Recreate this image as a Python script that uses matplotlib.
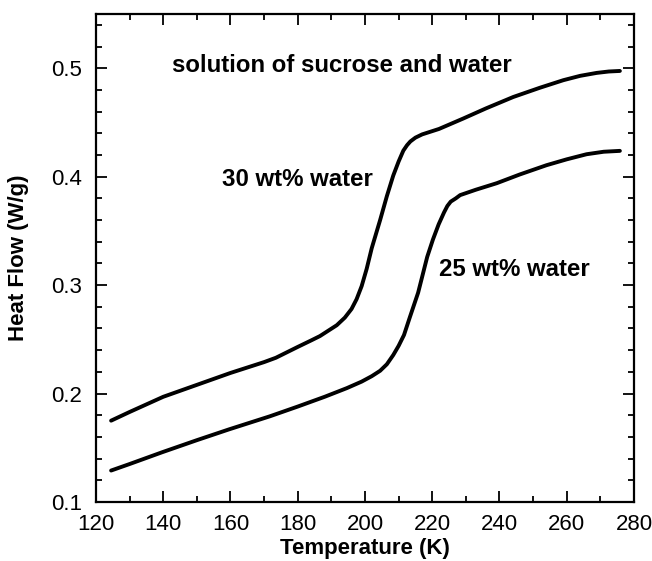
import matplotlib
matplotlib.use('Agg')
from matplotlib import pyplot
from matplotlib.ticker import MultipleLocator

# temperature (K) and heat flow (W/g)
temp_30 = [124.5, 130, 140, 150, 160, 170, 173.5, 180, 184, 186.6, 189.1,
           191.6, 194, 196, 197.5, 199, 200.5, 202, 204.5, 206.5, 208.4,
           210, 211.4, 212.5, 213.5, 215, 217, 222, 229.2, 236, 244.1, 252,
           259, 264, 268.9, 272.5, 275.8]
flow_30 = [0.175, 0.183, 0.197, 0.208, 0.219, 0.229, 0.233, 0.243, 0.249,
           0.253, 0.258, 0.263, 0.270, 0.278, 0.287, 0.299, 0.315, 0.334,
           0.36, 0.382, 0.401, 0.414, 0.424, 0.429, 0.4325, 0.436, 0.439,
           0.444, 0.4536, 0.463, 0.4735, 0.482, 0.489, 0.493, 0.4957, 0.497,
           0.4975]

temp_25 = [124.5, 130, 139.8, 150, 159.6, 171.7, 180, 188, 194.6, 199,
           202, 204.5, 206.5, 208.4, 210, 211.6, 213.3, 215.8, 218.5, 220.2,
           221.9, 223.5, 224.5, 225.5, 227, 228.3, 233, 239.2, 246, 254, 260,
           265.9, 271, 275.8]
flow_25 = [0.129, 0.135, 0.146, 0.157, 0.167, 0.179, 0.188, 0.197, 0.205,
           0.211, 0.216, 0.221, 0.227, 0.2355, 0.244, 0.254, 0.27, 0.293,
           0.326, 0.342, 0.356, 0.367, 0.373, 0.377, 0.380, 0.383, 0.388,
           0.394, 0.402, 0.4106, 0.416, 0.4207, 0.423, 0.4238]

font = ['Liberation Sans', 'DejaVu Sans']


def main():
    fig = pyplot.figure(figsize=(6.52, 5.61), dpi=100)
    ax = fig.add_axes([0.1472, 0.1052, 0.8252, 0.8698])

    ax.plot(temp_30, flow_30, color='black', lw=2.8, solid_capstyle='round')
    ax.plot(temp_25, flow_25, color='black', lw=2.8, solid_capstyle='round')

    ax.set_xlim(120, 280)
    ax.set_ylim(0.1, 0.55)
    ax.xaxis.set_major_locator(MultipleLocator(20))
    ax.xaxis.set_minor_locator(MultipleLocator(10))
    ax.yaxis.set_major_locator(MultipleLocator(0.1))
    ax.yaxis.set_minor_locator(MultipleLocator(0.02))
    ax.tick_params(which='both', direction='in', top=True, right=True,
                   width=1.3, labelsize=16)
    ax.tick_params(axis='x', pad=9)
    ax.tick_params(axis='y', pad=10)
    ax.tick_params(which='major', length=8)
    ax.tick_params(which='minor', length=4)
    for lab in ax.get_xticklabels() + ax.get_yticklabels():
        lab.set_family(font)
    for sp in ax.spines.values():
        sp.set_linewidth(1.6)

    ax.set_xlabel('Temperature (K)', family=font, fontsize=16,
                  fontweight='bold', labelpad=1.5)
    ax.set_ylabel('Heat Flow (W/g)', family=font, fontsize=16,
                  fontweight='bold', labelpad=16)

    ax.text(0.142, 0.895, 'solution of sucrose and water', transform=ax.transAxes,
            family=font, fontsize=17.3, fontweight='bold', va='center')
    ax.text(0.235, 0.66, '30 wt% water', transform=ax.transAxes,
            family=font, fontsize=17.3, fontweight='bold', va='center')
    ax.text(0.638, 0.477, '25 wt% water', transform=ax.transAxes,
            family=font, fontsize=17.3, fontweight='bold', va='center')

    fig.savefig('out.png', dpi=100)


if __name__ == '__main__':
    main()
